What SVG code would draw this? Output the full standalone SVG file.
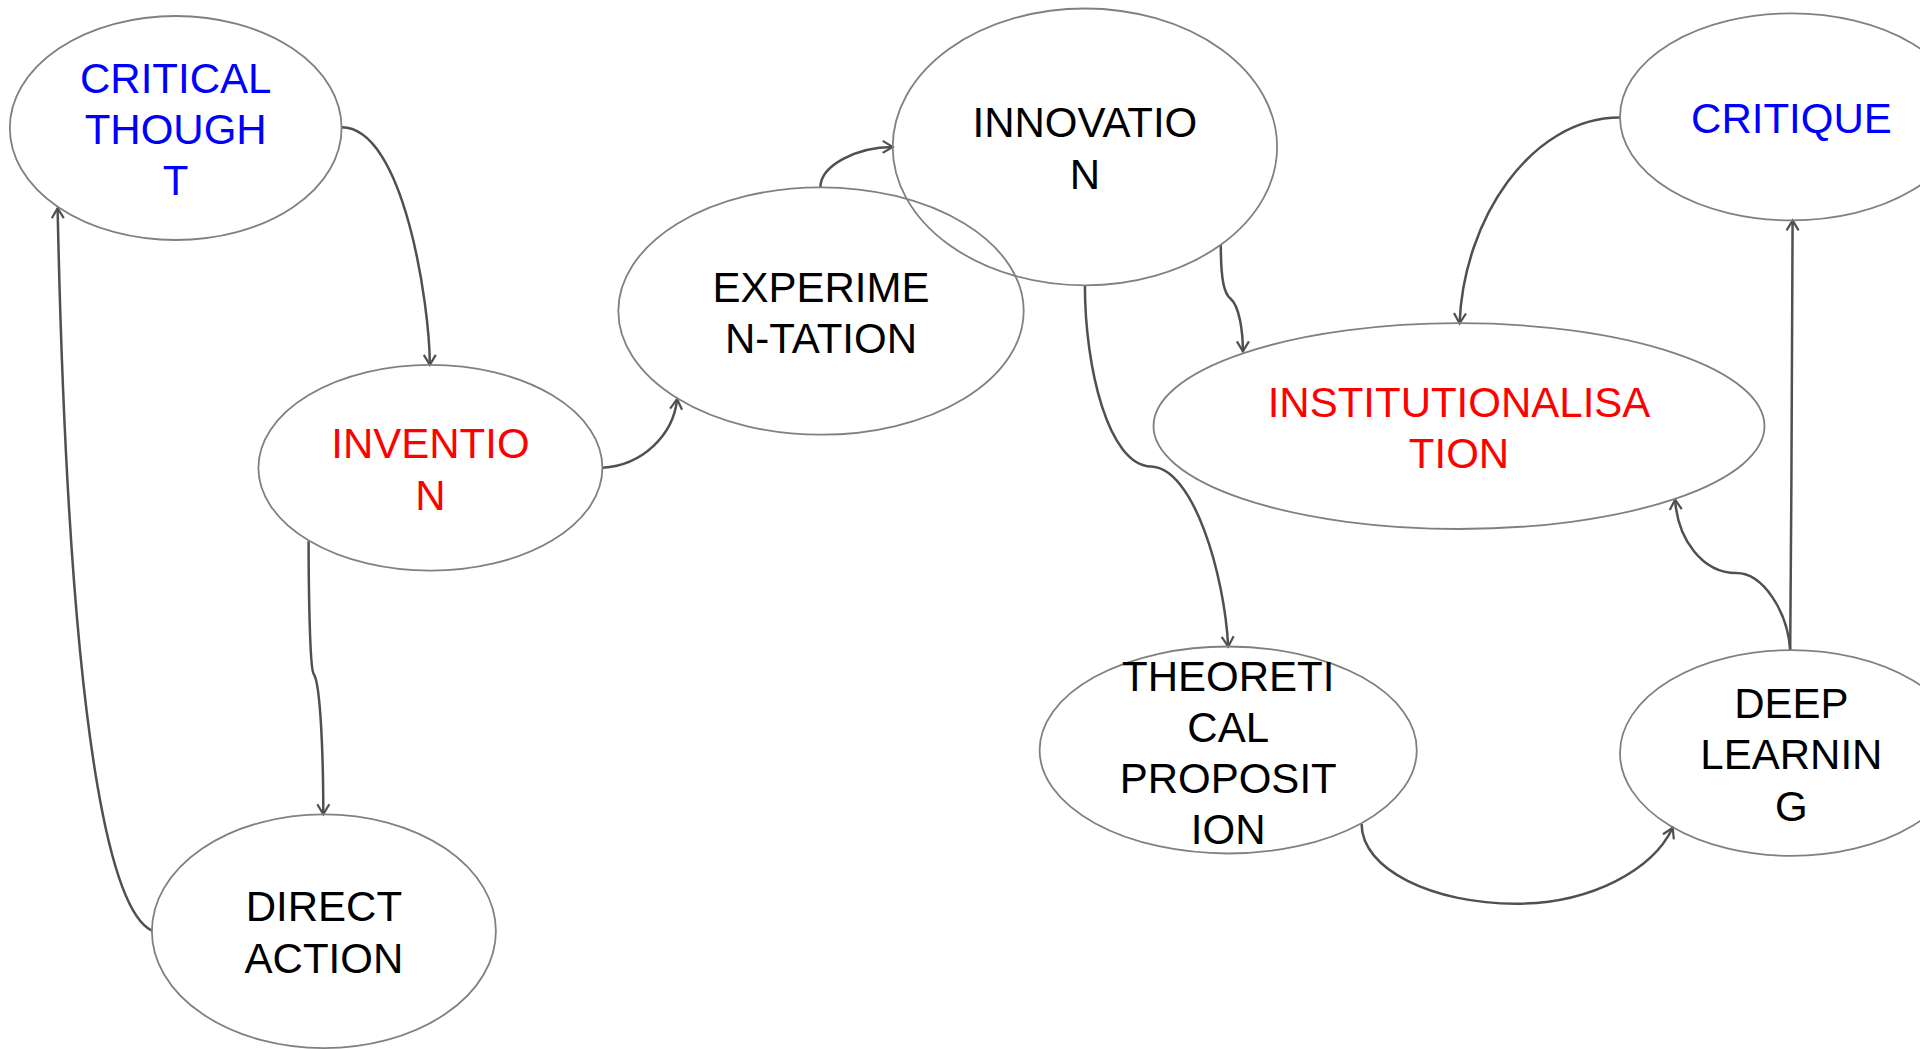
<svg xmlns="http://www.w3.org/2000/svg" width="1920" height="1049" viewBox="0 0 1920 1049">
<style>
.node ellipse{fill:none;stroke:#808080;stroke-width:1.8}
.node text{font-family:"Liberation Sans",Arial,sans-serif;font-size:42px;text-anchor:middle;fill:#000}
.blue text{fill:#0000ff}
.red text{fill:#ff0000}
.edge{fill:none;stroke:#505050;stroke-width:2.5;marker-end:url(#arr)}
</style>
<defs>
<marker id="arr" markerUnits="userSpaceOnUse" markerWidth="14" markerHeight="16" refX="11" refY="7" orient="auto" viewBox="0 0 14 14">
<path d="M1,1 L11,7 L1,13" fill="none" stroke="#505050" stroke-width="2.2"/>
</marker>
</defs>
<rect width="1920" height="1049" fill="#fff"/>
<g id="connectors">
<path class="edge" d="M341.6,127.3 C404,127.3 429.8,306 429.8,364.9"/>
<path class="edge" d="M602.4,467.8 C642.9,465.3 673.5,434.7 677.1,399.2"/>
<path class="edge" d="M820.4,187.3 C820.4,165.3 857.1,146.9 892.7,146.9"/>
<path class="edge" d="M1220.8,244.9 C1220.8,281.6 1224.5,293.9 1230.6,298.8 C1239.2,306.1 1242.9,330.6 1242.9,351.4"/>
<path class="edge" d="M1084.9,285.3 C1084.9,367.3 1108.2,465.3 1151,466.5 C1193.9,467.8 1224.5,575.5 1228.2,646.5"/>
<path class="edge" d="M308.6,541.2 C308.6,587.8 309.8,667.3 313.5,673.5 C320.8,683.3 323.3,759.2 323.3,814.3"/>
<path class="edge" d="M151.8,930.6 C120,915 70,800 57.6,208.2"/>
<path class="edge" d="M1620,117.6 C1530.6,117.6 1463.3,220.4 1459.6,323.3"/>
<path class="edge" d="M1790.2,650.2 C1791,500 1792.6,400 1792.6,220.4"/>
<path class="edge" d="M1790.2,650.2 C1787.8,612.2 1763.3,573.1 1736.3,573.1 C1702,573.1 1677.6,538.8 1675.1,499.6"/>
<path class="edge" d="M1361.6,824.1 C1361.6,869.4 1432.7,903.7 1515.9,903.7 C1591.8,903.7 1653,869.4 1672.7,827.8"/>
</g>
<g id="critical-thought" class="node blue">
<ellipse cx="175.7" cy="128" rx="165.9" ry="112"/>
<text x="175.7" y="93.4">CRITICAL</text>
<text x="175.7" y="143.6">THOUGH</text>
<text x="175.7" y="195">T</text>
</g>
<g id="invention" class="node red">
<ellipse cx="430.4" cy="467.8" rx="172" ry="102.9"/>
<text x="430.4" y="458.3">INVENTIO</text>
<text x="430.4" y="509.7">N</text>
</g>
<g id="direct-action" class="node">
<ellipse cx="323.9" cy="931.2" rx="172" ry="116.9"/>
<text x="323.9" y="921">DIRECT</text>
<text x="323.9" y="972.6">ACTION</text>
</g>
<g id="experimentation" class="node">
<ellipse cx="821" cy="311" rx="202.7" ry="123.7"/>
<text x="821" y="301.5">EXPERIME</text>
<text x="821" y="353">N-TATION</text>
</g>
<g id="innovation" class="node">
<ellipse cx="1084.9" cy="146.9" rx="192.2" ry="138.4"/>
<text x="1084.9" y="137.4">INNOVATIO</text>
<text x="1084.9" y="188.9">N</text>
</g>
<g id="critique" class="node blue">
<ellipse cx="1791.4" cy="116.9" rx="171.4" ry="103.5"/>
<text x="1791.4" y="132.6">CRITIQUE</text>
</g>
<g id="institutionalisation" class="node red">
<ellipse cx="1459" cy="426.1" rx="305.5" ry="102.9"/>
<text x="1459" y="416.6">INSTITUTIONALISA</text>
<text x="1459" y="468">TION</text>
</g>
<g id="theoretical-proposition" class="node">
<ellipse cx="1228.2" cy="750" rx="188.6" ry="103.5"/>
<text x="1228.2" y="690.9">THEORETI</text>
<text x="1228.2" y="742.3">CAL</text>
<text x="1228.2" y="792.6">PROPOSIT</text>
<text x="1228.2" y="844">ION</text>
</g>
<g id="deep-learning" class="node">
<ellipse cx="1791.4" cy="753" rx="171.4" ry="102.9"/>
<text x="1791.4" y="717.9">DEEP</text>
<text x="1791.4" y="769.3">LEARNIN</text>
<text x="1791.4" y="820.7">G</text>
</g>
</svg>
